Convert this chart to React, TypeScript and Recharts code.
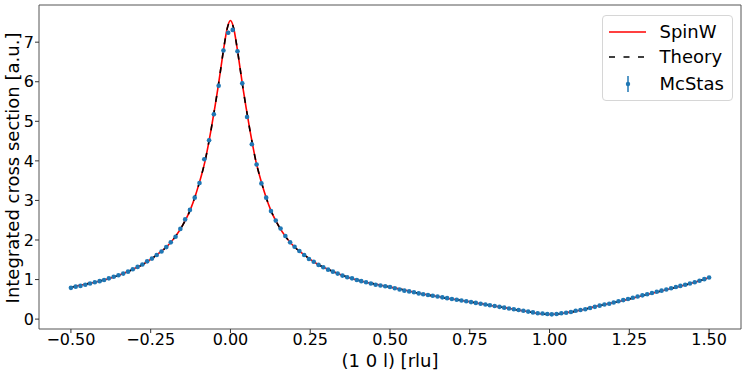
import React from 'react';
import { ComposedChart, Line, Scatter, ErrorBar, XAxis, YAxis, ReferenceArea, Legend } from 'recharts';

const FONT = '"DejaVu Sans", sans-serif';

// Curve grid (rlu) for the SpinW and Theory lines
const qLine = [
  -0.5, -0.475, -0.45, -0.425, -0.4, -0.375, -0.35, -0.325, -0.3, -0.275, -0.25, -0.225, -0.2, -0.175, -0.15, -0.125,
  -0.11, -0.1, -0.09, -0.08, -0.07, -0.06, -0.05, -0.04, -0.03, -0.02, -0.01,
  0,
  0.01, 0.02, 0.03, 0.04, 0.05, 0.06, 0.07, 0.08, 0.09, 0.1, 0.11,
  0.125, 0.15, 0.175, 0.2, 0.225, 0.25, 0.275, 0.3, 0.325, 0.35, 0.375, 0.4, 0.425, 0.45, 0.475, 0.5,
  0.525, 0.55, 0.575, 0.6, 0.625, 0.65, 0.675, 0.7, 0.725, 0.75, 0.775, 0.8, 0.825, 0.85, 0.875, 0.9, 0.925, 0.95, 0.975, 1.0,
  1.025, 1.05, 1.075, 1.1, 1.125, 1.15, 1.175, 1.2, 1.225, 1.25, 1.275, 1.3, 1.325, 1.35, 1.375, 1.4, 1.425, 1.45, 1.475, 1.5,
];

const theoryI = [
  0.80, 0.85, 0.89, 0.93, 0.98, 1.04, 1.11, 1.19, 1.28, 1.38, 1.51, 1.66, 1.83, 2.06, 2.37, 2.78,
  3.12, 3.38, 3.66, 3.98, 4.38, 4.82, 5.30, 5.80, 6.35, 6.90, 7.35,
  7.53,
  7.35, 6.90, 6.35, 5.80, 5.30, 4.82, 4.38, 3.98, 3.66, 3.38, 3.12,
  2.78, 2.37, 2.06, 1.83, 1.66, 1.51, 1.38, 1.28, 1.19, 1.11, 1.04, 0.98, 0.93, 0.89, 0.85, 0.81,
  0.77, 0.73, 0.68, 0.64, 0.60, 0.57, 0.53, 0.50, 0.47, 0.44, 0.40, 0.37, 0.33, 0.30, 0.27, 0.23, 0.20, 0.16, 0.13, 0.12,
  0.13, 0.16, 0.19, 0.23, 0.28, 0.33, 0.37, 0.42, 0.46, 0.51, 0.56, 0.61, 0.66, 0.71, 0.76, 0.81, 0.86, 0.92, 0.98, 1.05,
];

const spinwI = [
  0.80, 0.85, 0.89, 0.93, 0.98, 1.04, 1.11, 1.19, 1.28, 1.38, 1.51, 1.66, 1.83, 2.06, 2.37, 2.78,
  3.12, 3.38, 3.66, 3.98, 4.38, 4.82, 5.30, 5.80, 6.35, 6.90, 7.36,
  7.55,
  7.36, 6.90, 6.35, 5.80, 5.30, 4.82, 4.38, 3.98, 3.66, 3.38, 3.12,
  2.78, 2.37, 2.06, 1.83, 1.66, 1.51, 1.38, 1.28, 1.19, 1.11, 1.04, 0.98, 0.93, 0.89, 0.85, 0.81,
  0.77, 0.73, 0.68, 0.64, 0.60, 0.57, 0.53, 0.50, 0.47, 0.44, 0.40, 0.37, 0.33, 0.30, 0.27, 0.23, 0.20, 0.16, 0.13, 0.12,
  0.13, 0.16, 0.19, 0.23, 0.28, 0.33, 0.37, 0.42, 0.46, 0.51, 0.56, 0.61, 0.66, 0.71, 0.76, 0.81, 0.86, 0.92, 0.98, 1.05,
];

// McStas simulated points
const qMcStas = [
  -0.500, -0.485, -0.470, -0.455, -0.440, -0.425, -0.410, -0.396, -0.381, -0.366,
  -0.351, -0.336, -0.321, -0.306, -0.291, -0.276, -0.261, -0.246, -0.231, -0.216,
  -0.201, -0.187, -0.172, -0.157, -0.142, -0.127, -0.112, -0.097, -0.082, -0.067,
  -0.052, -0.037, -0.022, -0.007, 0.007, 0.022, 0.037, 0.052, 0.067, 0.082,
  0.097, 0.112, 0.127, 0.142, 0.157, 0.172, 0.187, 0.201, 0.216, 0.231,
  0.246, 0.261, 0.276, 0.291, 0.306, 0.321, 0.336, 0.351, 0.366, 0.381,
  0.396, 0.410, 0.425, 0.440, 0.455, 0.470, 0.485, 0.500, 0.515, 0.530,
  0.545, 0.560, 0.575, 0.590, 0.604, 0.619, 0.634, 0.649, 0.664, 0.679,
  0.694, 0.709, 0.724, 0.739, 0.754, 0.769, 0.784, 0.799, 0.813, 0.828,
  0.843, 0.858, 0.873, 0.888, 0.903, 0.918, 0.933, 0.948, 0.963, 0.978,
  0.993, 1.007, 1.022, 1.037, 1.052, 1.067, 1.082, 1.097, 1.112, 1.127,
  1.142, 1.157, 1.172, 1.187, 1.201, 1.216, 1.231, 1.246, 1.261, 1.276,
  1.291, 1.306, 1.321, 1.336, 1.351, 1.366, 1.381, 1.396, 1.410, 1.425,
  1.440, 1.455, 1.470, 1.485, 1.500,
];

const mcstasI = [
  0.79, 0.82, 0.84, 0.87, 0.90, 0.93, 0.96, 0.99, 1.03, 1.07,
  1.11, 1.15, 1.20, 1.26, 1.32, 1.38, 1.46, 1.53, 1.62, 1.71,
  1.82, 1.94, 2.08, 2.28, 2.52, 2.76, 3.07, 3.44, 4.04, 4.52,
  5.18, 5.90, 6.79, 7.24, 7.31, 6.77, 5.96, 5.11, 4.42, 3.91,
  3.43, 3.07, 2.73, 2.49, 2.29, 2.10, 1.94, 1.83, 1.72, 1.62,
  1.52, 1.45, 1.37, 1.31, 1.25, 1.20, 1.15, 1.10, 1.06, 1.03,
  0.99, 0.96, 0.93, 0.90, 0.87, 0.85, 0.83, 0.81, 0.78, 0.75,
  0.72, 0.70, 0.68, 0.65, 0.63, 0.61, 0.59, 0.57, 0.55, 0.53,
  0.51, 0.49, 0.47, 0.45, 0.43, 0.41, 0.39, 0.37, 0.35, 0.33,
  0.31, 0.29, 0.27, 0.25, 0.23, 0.21, 0.19, 0.17, 0.15, 0.14,
  0.13, 0.12, 0.13, 0.15, 0.16, 0.18, 0.21, 0.23, 0.25, 0.28,
  0.31, 0.34, 0.37, 0.39, 0.42, 0.45, 0.48, 0.51, 0.54, 0.57,
  0.60, 0.63, 0.66, 0.69, 0.72, 0.75, 0.78, 0.81, 0.84, 0.87,
  0.90, 0.93, 0.97, 1.01, 1.05,
];

const mcstasErr = [
  0.01, 0.01, 0.01, 0.01, 0.01, 0.01, 0.01, 0.01, 0.01, 0.01,
  0.01, 0.01, 0.01, 0.01, 0.01, 0.02, 0.02, 0.02, 0.02, 0.02,
  0.02, 0.02, 0.02, 0.02, 0.03, 0.03, 0.03, 0.03, 0.04, 0.04,
  0.04, 0.05, 0.05, 0.05, 0.05, 0.05, 0.05, 0.04, 0.04, 0.04,
  0.03, 0.03, 0.03, 0.03, 0.02, 0.02, 0.02, 0.02, 0.02, 0.02,
  0.02, 0.02, 0.02, 0.01, 0.01, 0.01, 0.01, 0.01, 0.01, 0.01,
  0.01, 0.01, 0.01, 0.01, 0.01, 0.01, 0.01, 0.01, 0.01, 0.01,
  0.01, 0.01, 0.01, 0.01, 0.01, 0.01, 0.01, 0.01, 0.01, 0.01,
  0.01, 0.01, 0.01, 0.01, 0.01, 0.01, 0.01, 0.01, 0.01, 0.01,
  0.01, 0.01, 0.01, 0.01, 0.01, 0.01, 0.01, 0.01, 0.01, 0.01,
  0.01, 0.01, 0.01, 0.01, 0.01, 0.01, 0.01, 0.01, 0.01, 0.01,
  0.01, 0.01, 0.01, 0.01, 0.01, 0.01, 0.01, 0.01, 0.01, 0.01,
  0.01, 0.01, 0.01, 0.01, 0.01, 0.01, 0.01, 0.01, 0.01, 0.01,
  0.01, 0.01, 0.01, 0.01, 0.01,
];

const xTicks = [-0.5, -0.25, 0, 0.25, 0.5, 0.75, 1.0, 1.25, 1.5];
const yTicks = [0, 1, 2, 3, 4, 5, 6, 7];
const xDomain = [-0.6, 1.6];
const yDomain = [-0.25, 7.94];
const seriesNames = ['SpinW', 'Theory', 'McStas'];
const xLabel = '(1 0 l) [rlu]';
const yLabel = 'Integrated cross section [a.u.]';

const RED = '#ff0000';
const BLUE = '#1f77b4';

const spinwData = qLine.map((q, i) => ({ q, v: spinwI[i] }));
const theoryData = qLine.map((q, i) => ({ q, v: theoryI[i] }));
const mcstasData = qMcStas.map((q, i) => ({ q, v: mcstasI[i], e: mcstasErr[i] }));

const fmtX = (v: number) => (v < 0 ? '\u2212' : '') + Math.abs(v).toFixed(2);

const LegendBox = () => {
  const row = (top: number, icon: React.ReactNode, label: string) => (
    <div style={{ position: 'absolute', left: 0, top: top - 13, height: 26, width: '100%' }}>
      <svg width={50} height={26} style={{ position: 'absolute', left: 0, top: 0 }}>{icon}</svg>
      <span style={{ position: 'absolute', left: 57, top: 0, lineHeight: '26px', fontSize: 18, whiteSpace: 'nowrap' }}>{label}</span>
    </div>
  );
  return (
    <div style={{ position: 'relative', boxSizing: 'border-box', width: 131, height: 86, border: '1px solid #d6d6d6', borderRadius: 4, background: 'rgba(255,255,255,0.8)', fontFamily: FONT, color: '#000' }}>
      {row(15.5, <line x1={6} x2={43} y1={13} y2={13} stroke={RED} strokeWidth={1.5} />, seriesNames[0])}
      {row(41, <line x1={6} x2={43} y1={13} y2={13} stroke="#000" strokeWidth={1.5} strokeDasharray="6 8.5" />, seriesNames[1])}
      {row(67.5, <g><line x1={25} x2={25} y1={5} y2={21} stroke={BLUE} strokeWidth={1.5} /><circle cx={25} cy={13} r={2.2} fill={BLUE} /></g>, seriesNames[2])}
    </div>
  );
};

export default function App() {
  return (
    <div style={{ position: 'absolute', left: 0, top: 0, width: 747, height: 374, background: '#fff', fontFamily: FONT }}>
      <ComposedChart width={747} height={374} margin={{ top: 5, right: 6, bottom: 0, left: 0 }} style={{ fontFamily: FONT }}>
        <XAxis
          type="number"
          dataKey="q"
          domain={xDomain}
          allowDataOverflow
          ticks={xTicks}
          tickFormatter={fmtX}
          height={45}
          axisLine={false}
          tickLine={{ stroke: '#333' }}
          tickSize={4}
          tickMargin={1}
          tick={{ fontSize: 16, fill: '#000', fontFamily: FONT }}
        />
        <YAxis
          type="number"
          domain={yDomain}
          allowDataOverflow
          ticks={yTicks}
          width={39}
          axisLine={false}
          tickLine={{ stroke: '#333' }}
          tickSize={4}
          tickMargin={1}
          tick={{ fontSize: 16, fill: '#000', fontFamily: FONT }}
        />
        <ReferenceArea x1={xDomain[0]} x2={xDomain[1]} y1={yDomain[0]} y2={yDomain[1]} fill="none" stroke="#555" strokeWidth={1} />
        <Line data={spinwData} dataKey="v" name={seriesNames[0]} type="monotone" stroke={RED} strokeWidth={1.6} dot={false} isAnimationActive={false} />
        <Line data={theoryData} dataKey="v" name={seriesNames[1]} type="monotone" stroke="#000" strokeWidth={1.6} strokeDasharray="6 8.5" dot={false} isAnimationActive={false} />
        <Scatter
          data={mcstasData}
          dataKey="v"
          name={seriesNames[2]}
          fill={BLUE}
          isAnimationActive={false}
          shape={(p: any) => <circle cx={p.cx} cy={p.cy} r={2.3} fill={BLUE} />}
        >
          <ErrorBar dataKey="e" direction="y" width={0} stroke={BLUE} strokeWidth={1.2} />
        </Scatter>
        <Legend
          layout="vertical"
          align="center"
          verticalAlign="middle"
          content={() => <LegendBox />}
          wrapperStyle={{ position: 'absolute', left: 601.5, top: 15, width: 131, height: 86 }}
        />
      </ComposedChart>
      <div style={{ position: 'absolute', left: 390, top: 360.5, transform: 'translate(-50%,-50%)', fontSize: 18, lineHeight: '16px', whiteSpace: 'nowrap', color: '#000' }}>{xLabel}</div>
      <div style={{ position: 'absolute', left: 12.6, top: 167.5, transform: 'translate(-50%,-50%) rotate(-90deg)', fontSize: 18, lineHeight: '18px', whiteSpace: 'nowrap', color: '#000' }}>{yLabel}</div>
    </div>
  );
}
